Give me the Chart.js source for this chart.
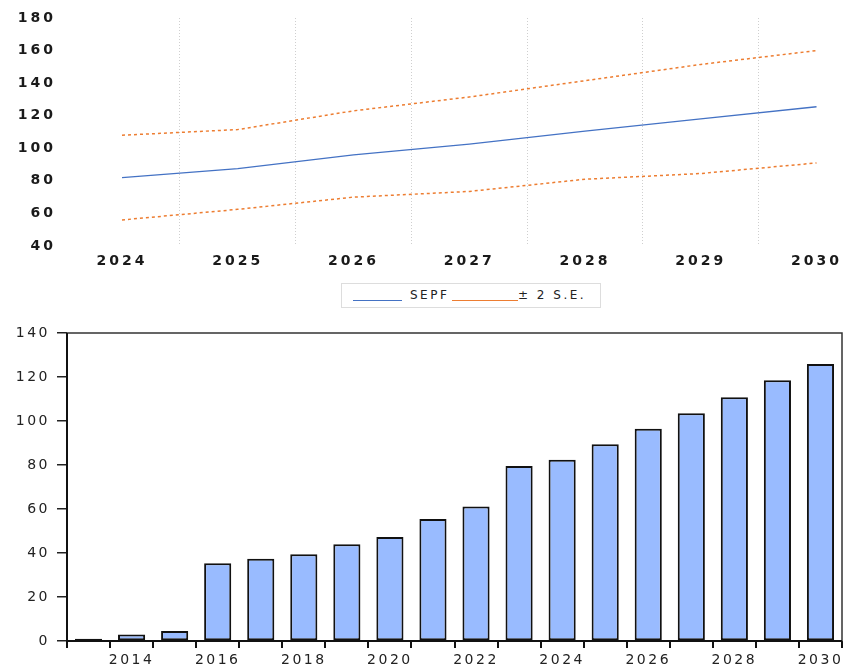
<!DOCTYPE html>
<html>
<head>
<meta charset="utf-8">
<script src="https://cdn.jsdelivr.net/npm/chart.js@4"></script>
<style>
  body { margin: 0; background: #fff; }
  #page { position: relative; width: 849px; height: 667px; }
  #forecastWrap { position: absolute; left: 0; top: 0; width: 849px; height: 276px; }
  #barsWrap { position: absolute; left: 0; top: 320px; width: 849px; height: 347px; }
  #legend { position: absolute; left: 341px; top: 283px; width: 258px; height: 23px;
            border: 1px solid #ddd; font-family: 'DejaVu Sans', sans-serif; font-size: 12px; color: #222; }
  #legend span { position: absolute; }
  .swatch { height: 0; top: 16px; border-top: 1.5px solid; }
  .txt { top: 4px; letter-spacing: 2.5px; }
</style>
</head>
<body>
<div id="page">
  <div id="forecastWrap"><canvas id="forecast_canvas"></canvas></div>
  <div id="legend">
    <span class="swatch" id="swSepf" style="left:11px;width:49px"></span>
    <span class="txt" id="lbSepf" style="left:68px"></span>
    <span class="swatch" id="swSe" style="left:110px;width:66px"></span>
    <span class="txt" id="lbSe" style="left:176px"></span>
  </div>
  <div id="barsWrap"><canvas id="bars_canvas"></canvas></div>
</div>
<script>
// forecast (top panel)
const forecastYears = ['2024', '2025', '2026', '2027', '2028', '2029', '2030'];
const sepf = [82, 87.5, 96, 102.5, 110.5, 118, 125.5];
const upperBand = [108, 111.5, 123, 131.5, 141.5, 151.5, 160];
const lowerBand = [56, 62.5, 70, 73.5, 81, 84.5, 91];

// history + forecast (bottom panel)
const barYears = [2013, 2014, 2015, 2016, 2017, 2018, 2019, 2020, 2021, 2022,
                  2023, 2024, 2025, 2026, 2027, 2028, 2029, 2030];
const barValues = [1.0, 3.0, 4.5, 35.3, 37.4, 39.4, 44.0, 47.3, 55.5, 61.1,
                   79.5, 82.4, 89.4, 96.5, 103.5, 110.8, 118.5, 125.9];

const blue = '#4472C4';
const orange = '#ED7D31';
const seLabel = '\u00B1 2 S.E.';

// html legend, same look as the original
document.getElementById('swSepf').style.borderColor = blue;
document.getElementById('swSe').style.borderColor = orange;
document.getElementById('lbSepf').textContent = 'SEPF';
document.getElementById('lbSe').textContent = seLabel;

// the original text is drawn wide, so spread the letters a bit
function wideText(spacing) {
    const set = (chart) => { chart.ctx.letterSpacing = spacing; };
    return { id: 'wideText', beforeUpdate: set, beforeLayout: set, beforeDraw: set };
}

const topFont = { family: 'DejaVu Sans', size: 14, weight: 'bold' };

new Chart(document.getElementById('forecast_canvas'), {
    type: 'line',
    data: {
        labels: forecastYears,
        datasets: [
            { label: 'SEPF', data: sepf, borderColor: blue, borderWidth: 1.3, pointRadius: 0, tension: 0 },
            { label: seLabel, data: upperBand, borderColor: orange, borderWidth: 1.5, borderDash: [3, 3], pointRadius: 0, tension: 0 },
            { label: seLabel, data: lowerBand, borderColor: orange, borderWidth: 1.5, borderDash: [3, 3], pointRadius: 0, tension: 0 }
        ]
    },
    options: {
        responsive: true,
        maintainAspectRatio: false,
        animation: false,
        layout: { padding: { left: 14, right: 31, top: 18, bottom: 0 } },
        plugins: { legend: { display: false }, tooltip: { enabled: false } },
        scales: {
            x: {
                offset: false,
                grid: { offset: true, color: '#cfcfcf', lineWidth: 1, drawTicks: false },
                border: { display: false, dash: [1, 2] },
                ticks: { font: topFont, color: '#1a1a1a', padding: 7, maxRotation: 0 },
                afterFit: (scale) => { scale.height = 30; }
            },
            y: {
                min: 40,
                max: 180,
                // invisible tick marks keep the labels well left of the plot
                grid: { drawOnChartArea: false, drawTicks: true, tickLength: 63, color: 'rgba(0,0,0,0)' },
                border: { display: false },
                ticks: { stepSize: 20, font: topFont, color: '#1a1a1a', padding: 3 },
                afterFit: (scale) => { scale.width = 108; }
            }
        }
    },
    plugins: [wideText('3px')]
});

// dark frame round the bar plot
const frame = {
    id: 'frame',
    afterDatasetsDraw(chart) {
        const { ctx, chartArea: a } = chart;
        ctx.save();
        ctx.strokeStyle = '#333';
        ctx.lineWidth = 1.5;
        ctx.strokeRect(a.left, a.top, a.right - a.left, a.bottom - a.top);
        ctx.strokeStyle = '#111';
        ctx.lineWidth = 2;
        ctx.beginPath();
        ctx.moveTo(a.left, a.top);
        ctx.lineTo(a.left, a.bottom);
        ctx.lineTo(a.right, a.bottom);
        ctx.stroke();
        ctx.restore();
    }
};

const botFont = { family: 'DejaVu Sans', size: 14 };

new Chart(document.getElementById('bars_canvas'), {
    type: 'bar',
    data: {
        labels: barYears,
        datasets: [{
            label: 'SEPF',
            data: barValues,
            backgroundColor: '#99BBFF',
            borderColor: '#111',
            borderWidth: 2,
            borderSkipped: false,
            barPercentage: 0.63,
            categoryPercentage: 1
        }]
    },
    options: {
        responsive: true,
        maintainAspectRatio: false,
        animation: false,
        layout: { padding: { left: 0, right: 7, top: 13, bottom: 0 } },
        plugins: { legend: { display: false }, tooltip: { enabled: false } },
        scales: {
            x: {
                grid: { drawOnChartArea: false, color: '#111', lineWidth: 2, tickLength: 7 },
                border: { display: false },
                ticks: {
                    font: botFont, color: '#222', padding: 4, autoSkip: false, maxRotation: 0,
                    callback: (v, i) => barYears[i] % 2 === 0 ? String(barYears[i]) : ''
                },
                afterFit: (scale) => { scale.height = 26; }
            },
            y: {
                min: 0,
                max: 140,
                grid: { drawOnChartArea: false, color: '#222', lineWidth: 1.5, tickLength: 10 },
                border: { display: false },
                ticks: { stepSize: 20, font: botFont, color: '#222', padding: 7 },
                afterFit: (scale) => {
                    scale.width = 67;
                    scale.paddingTop = 0;
                    scale.paddingBottom = 0;
                }
            }
        }
    },
    plugins: [frame, wideText('2.5px')]
});
</script>
</body>
</html>
